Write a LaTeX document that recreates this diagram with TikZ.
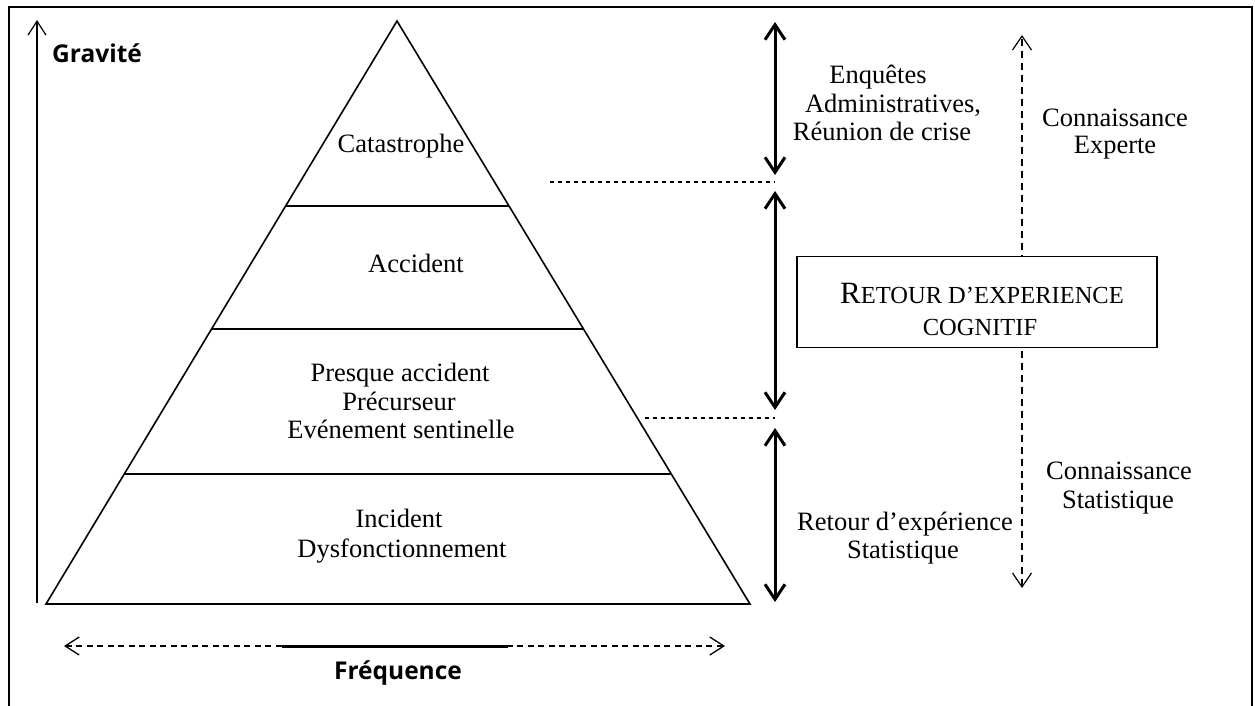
\documentclass[tikz,border=0pt]{standalone}
\usepackage{fontspec}
\setmainfont{Liberation Serif}
\newfontfamily\axisfont{Open Sans}
\usetikzlibrary{arrows.meta}

\tikzset{
  txt/.style={font=\fontsize{26.5}{30}\selectfont, inner sep=0pt, anchor=base},
  axislabel/.style={font=\axisfont\bfseries\fontsize{24.5}{28}\selectfont, inner sep=0pt, anchor=base},
  pyr/.style={line width=1.6pt, line join=miter},
  thinhead/.style={-{Straight Barb[length=14pt,width=18pt]}},
  bigarrow/.style={line width=3pt, {Straight Barb[length=15pt,width=20pt]}-{Straight Barb[length=15pt,width=20pt]}},
  sepline/.style={line width=1.2pt, dash pattern=on 4pt off 4pt},
  vdash/.style={line width=1.2pt, dash pattern=on 7pt off 5pt},
  hdash/.style={line width=1.3pt, dash pattern=on 6pt off 4.5pt},
}

\begin{document}
\begin{tikzpicture}[x=1pt,y=-1pt]
\useasboundingbox (0,0) rectangle (1255,705);

% outer frame (open at the bottom edge)
\draw[line width=2.2pt] (9,706) -- (9,7) -- (1252,7) -- (1252,706);

% gravity axis
\coordinate (gbot) at (37,603);
\coordinate (gtop) at (37,20);
\draw[line width=1.2pt, thinhead] (gbot) -- (gtop);
\node[axislabel, anchor=base west] (grav) at (52,62) {Gravité};

% pyramid
\coordinate (apex) at (397,21);
\coordinate (bl) at (46,604);
\coordinate (br) at (750,604);
\draw[pyr] (apex) -- (bl) -- (br) -- cycle;
\coordinate (l1a) at (285.3,206); \coordinate (l1b) at (508.7,206);
\coordinate (l2a) at (211,329);   \coordinate (l2b) at (583,329);
\coordinate (l3a) at (123.5,474); \coordinate (l3b) at (670.5,474);
\draw[pyr] (l1a) -- (l1b);
\draw[pyr] (l2a) -- (l2b);
\draw[pyr] (l3a) -- (l3b);

% pyramid levels
\node[txt] (cat) at (401,152) {Catastrophe};
\node[txt] (acc) at (416,272) {Accident};
\node[txt] (pre1) at (400,381) {Presque accident};
\node[txt] (pre2) at (399,410) {Précurseur};
\node[txt] (pre3) at (401,438) {Evénement sentinelle};
\node[txt] (inc1) at (399,527) {Incident};
\node[txt] (inc2) at (402,557) {Dysfonctionnement};

% frequency axis
\coordinate (fl) at (64,646);
\coordinate (fr) at (725,646);
\coordinate (fs1) at (282,646);
\coordinate (fs2) at (508,646);
\draw[hdash, {Straight Barb[length=14pt,width=18pt]}-{Straight Barb[length=14pt,width=18pt]}] (fl) -- (fr);
\draw[line width=3pt] (fs1) -- (fs2);
\node[axislabel] (freq) at (398,679) {Fréquence};

% separators between the three zones
\coordinate (s1a) at (550,182); \coordinate (s1b) at (775,182);
\coordinate (s2a) at (645,418); \coordinate (s2b) at (775,418);
\draw[sepline] (s1a) -- (s1b);
\draw[sepline] (s2a) -- (s2b);

% bold range arrows
\coordinate (b1t) at (775,22);  \coordinate (b1b) at (775,175);
\coordinate (b2t) at (775,191); \coordinate (b2b) at (775,410);
\coordinate (b3t) at (775,428); \coordinate (b3b) at (775,602);
\draw[bigarrow] (b1t) -- (b1b);
\draw[bigarrow] (b2t) -- (b2b);
\draw[bigarrow] (b3t) -- (b3b);

\node[txt] (enq1) at (878,83)  {Enquêtes};
\node[txt] (enq2) at (893,112) {Administratives,};
\node[txt] (enq3) at (882,140) {Réunion de crise};

\node[txt] (rex1) at (905,530) {Retour d’expérience};
\node[txt] (rex2) at (903,558) {Statistique};

% knowledge axis
\coordinate (kt) at (1022,35);
\coordinate (kb) at (1022,588);
\draw[vdash, {Straight Barb[length=14pt,width=19pt]}-{Straight Barb[length=14pt,width=19pt]}] (kb) -- (kt);

\node[draw, line width=1.4pt, fill=white, minimum width=360pt, minimum height=91pt, inner sep=0pt] (box) at (977,302) {};
\node[inner sep=0pt, anchor=base] (box1) at (982,303)
  {{\fontsize{31}{31}\selectfont R}{\fontsize{24.5}{24.5}\selectfont ETOUR D’EXPERIENCE}};
\node[inner sep=0pt, anchor=base] (box2) at (980,335)
  {\fontsize{24.5}{24.5}\selectfont COGNITIF};

\node[txt] (ke1) at (1115,126) {Connaissance};
\node[txt] (ke2) at (1115,153) {Experte};
\node[txt] (ks1) at (1119,479) {Connaissance};
\node[txt] (ks2) at (1118,508) {Statistique};
\end{tikzpicture}
\end{document}
